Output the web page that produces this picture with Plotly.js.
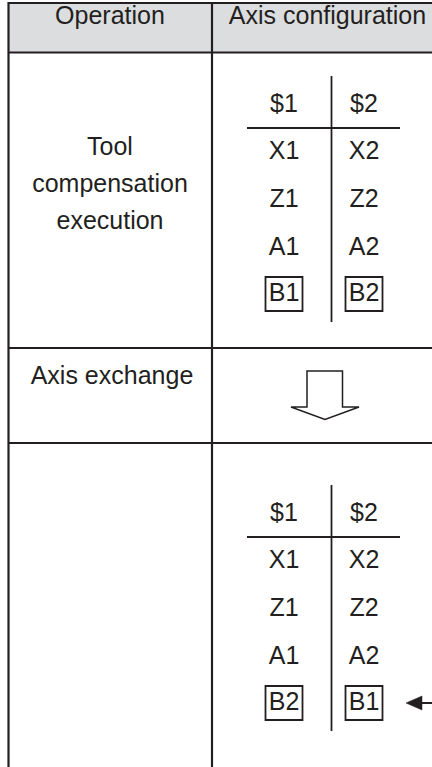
<!DOCTYPE html>
<html>
<head>
<meta charset="utf-8">
<script src="https://cdn.plot.ly/plotly-3.0.1.min.js"></script>
<style>html,body{margin:0;padding:0;background:#fff;}#chart{width:432px;height:767px;}</style>
</head>
<body>
<div id="chart"></div>
<script>
// ---- data ----
const headers = ['Operation', 'Axis configuration'];
const operationLines = [['Tool', 'compensation', 'execution'], ['Axis exchange'], []];
const systems = ['$1', '$2'];
const beforeAxes1 = ['X1', 'Z1', 'A1', 'B1'];
const beforeAxes2 = ['X2', 'Z2', 'A2', 'B2'];
const afterAxes1 = ['X1', 'Z1', 'A1', 'B2'];
const afterAxes2 = ['X2', 'Z2', 'A2', 'B1'];
const boxedRow = [false, false, false, true];
const changedRow = [false, false, false, true];

// ---- layout constants (pixel coordinates) ----
const W = 432, H = 767;
const INK = '#231f20';
const FONT = 'Liberation Sans, Arial, sans-serif';
const FS = 25;
const colX = [284, 364];
const leftX = 110;
const blockTop = [76, 485];         // top of each T block
const sysYOff = 30;                 // $1 row centre offset from block top
const ruleYOff = 52;                // horizontal rule offset
const rowYOff = [77, 125, 173, 218.6];
const vEndOff = 246;

const traces = [];
const shapes = [];
function txt(xs, ys, texts, size) {
  traces.push({
    type: 'scatter', mode: 'text', x: xs, y: ys, text: texts,
    textposition: 'middle center', hoverinfo: 'skip', showlegend: false,
    textfont: {family: FONT, size: size || FS, color: INK}
  });
}
function line(x0, y0, x1, y1, w) {
  shapes.push({type: 'line', xref: 'x', yref: 'y', x0: x0, y0: y0, x1: x1, y1: y1,
    line: {color: INK, width: w}});
}

// header background
shapes.push({type: 'rect', xref: 'x', yref: 'y', x0: 8, y0: 3, x1: W + 5, y1: 52.5,
  fillcolor: '#dcdddf', line: {width: 0}, layer: 'below'});
// table rules
line(8, 3, W + 5, 3, 2.2);
line(8, 52.5, W + 5, 52.5, 2.2);
line(8, 348, W + 5, 348, 2.2);
line(8, 443, W + 5, 443, 2.2);
line(8.5, 2, 8.5, H + 5, 2.2);
line(212, 2, 212, H + 5, 2.2);

// header texts
txt([leftX, 327.5], [18, 18], headers, FS);

// left column texts
const opFirstY = [149, 377.5, 0];
operationLines.forEach(function (lines, i) {
  const xs = [], ys = [];
  lines.forEach(function (l, j) { xs.push(leftX + (i === 1 ? 2 : 0)); ys.push(opFirstY[i] + j * 37); });
  if (lines.length) txt(xs, ys, lines, FS);
});

// T blocks
function block(top, a1, a2) {
  line(331.5, top, 331.5, top + vEndOff, 1.8);
  line(247, top + ruleYOff, 400, top + ruleYOff, 2);
  txt(colX, [top + sysYOff, top + sysYOff], systems, FS);
  txt(a1.map(function () { return colX[0]; }), rowYOff.map(function (o) { return top + o; }), a1, FS);
  txt(a2.map(function () { return colX[1]; }), rowYOff.map(function (o) { return top + o; }), a2, FS);
  boxedRow.forEach(function (b, i) {
    if (!b) return;
    const cy = top + rowYOff[i] - 0.6;
    colX.forEach(function (cx) {
      shapes.push({type: 'rect', xref: 'x', yref: 'y', x0: cx - 18.5, x1: cx + 18.5,
        y0: cy - 17, y1: cy + 17, line: {color: INK, width: 1.8}});
    });
  });
}
block(blockTop[0], beforeAxes1, beforeAxes2);
block(blockTop[1], afterAxes1, afterAxes2);

// down block arrow
shapes.push({type: 'path', xref: 'x', yref: 'y',
  path: 'M307,371 L342.5,371 L342.5,407 L359,407 L325,419.5 L291,407 L307,407 Z',
  fillcolor: '#ffffff', line: {color: INK, width: 1.5}});

// left pointing arrow at the changed row
changedRow.forEach(function (c, i) {
  if (!c) return;
  const y = blockTop[1] + rowYOff[i] - 0.6;
  line(420, y, W + 5, y, 2);
  shapes.push({type: 'path', xref: 'x', yref: 'y',
    path: 'M406,' + y + ' L422,' + (y - 7) + ' L422,' + (y + 7) + ' Z',
    fillcolor: INK, line: {color: INK, width: 0.5}});
});

const layout = {
  width: W, height: H,
  margin: {l: 0, r: 0, t: 0, b: 0},
  paper_bgcolor: '#ffffff', plot_bgcolor: '#ffffff',
  xaxis: {range: [0, W], visible: false, fixedrange: true},
  yaxis: {range: [H, 0], visible: false, fixedrange: true},
  shapes: shapes,
  showlegend: false
};
Plotly.newPlot('chart', traces, layout, {staticPlot: true, displayModeBar: false});
</script>
</body>
</html>
